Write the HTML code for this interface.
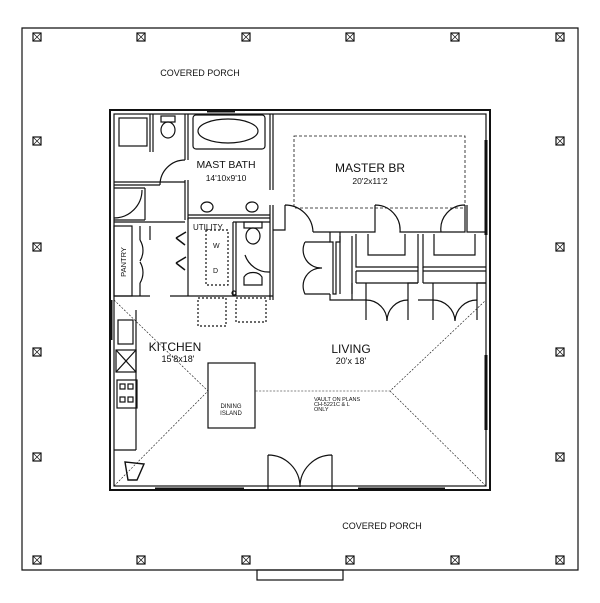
<!DOCTYPE html>
<html><head><style>html,body{margin:0;padding:0;background:#fff}svg{display:block}text{font-family:"Liberation Sans",sans-serif;fill:#111}</style></head>
<body>
<svg width="600" height="603" viewBox="0 0 600 603" xmlns="http://www.w3.org/2000/svg" fill="none" stroke="#111" stroke-width="1.2">
<defs>
<g id="post"><rect x="-4" y="-4" width="8" height="8" fill="#fff"/><path d="M-4 -4L4 4M4 -4L-4 4" stroke-width="0.7"/></g>
</defs>
<path d="M22 28H578V570H22Z"/>
<rect x="257" y="570" width="86" height="10"/>
<g>
<use href="#post" x="37" y="37"/><use href="#post" x="141" y="37"/><use href="#post" x="246" y="37"/><use href="#post" x="350" y="37"/><use href="#post" x="455" y="37"/><use href="#post" x="560" y="37"/>
<use href="#post" x="37" y="560"/><use href="#post" x="141" y="560"/><use href="#post" x="246" y="560"/><use href="#post" x="350" y="560"/><use href="#post" x="455" y="560"/><use href="#post" x="560" y="560"/>
<use href="#post" x="37" y="141"/><use href="#post" x="37" y="247"/><use href="#post" x="37" y="352"/><use href="#post" x="37" y="457"/>
<use href="#post" x="560" y="141"/><use href="#post" x="560" y="247"/><use href="#post" x="560" y="352"/><use href="#post" x="560" y="457"/>
</g>
<text x="200" y="76" font-size="9" text-anchor="middle" stroke="none">COVERED  PORCH</text>
<text x="382" y="529" font-size="9" text-anchor="middle" stroke="none">COVERED  PORCH</text>
<rect x="110" y="110" width="380" height="380" stroke-width="2"/>
<rect x="114" y="114" width="372" height="372"/>
<path d="M155 489H244M358 489H445M207 111H235M486 140V235M486 355V430M111 300V340" stroke-width="3"/>
<path d="M185 114V160M185 180V220M188 114V160M188 180V220" />
<path d="M114 182H185M114 185H160" />
<path d="M150 114V152M153 114V152"/>
<path d="M270 114V190M273 114V190M270 205V300M273 205V300"/>
<path d="M188 218H270M188 215H270"/>
<rect x="119" y="118" width="28" height="28"/>
<ellipse cx="168" cy="130" rx="7" ry="8"/><rect x="161" y="116" width="14" height="6"/>
<rect x="193" y="115" width="72" height="34" rx="3"/><ellipse cx="228" cy="131" rx="30" ry="12"/>
<path d="M160 185 A25 25 0 0 1 185 160"/>
<text x="226" y="168" font-size="10.5" text-anchor="middle" stroke="none">MAST  BATH</text>
<text x="226" y="181" font-size="8.5" text-anchor="middle" stroke="none">14'10x9'10</text>
<ellipse cx="207" cy="207" rx="6" ry="5"/><ellipse cx="252" cy="207" rx="6" ry="5"/>
<path d="M114 188H145M114 220H145M145 188V220M114 222H185"/>
<path d="M114 218 A28 28 0 0 0 142 190"/>
<rect x="114" y="226" width="18" height="70"/>
<text x="126" y="262" font-size="7.5" text-anchor="middle" stroke="none" transform="rotate(-90 126 262)">PANTRY</text>
<path d="M140 226V240M140 283V296M114 296H150M150 226V240"/>
<path d="M140 240 A20 20 0 0 1 140 261M140 283 A20 20 0 0 0 140 262"/>
<path d="M188 218V296H240M188 296H170M233 222V296M236 222V296M233 222H270"/>
<path d="M185 245L176 238M176 238L186 232M185 270L176 263M176 263L186 257" stroke-width="1.5"/>
<text x="193" y="230" font-size="8" stroke="none">UTILITY</text>
<rect x="206" y="230" width="22" height="55" stroke-dasharray="2 2"/>
<text x="213" y="248" font-size="7" stroke="none">W</text><text x="213" y="273" font-size="7" stroke="none">D</text>
<rect x="198" y="298" width="28" height="28" stroke-dasharray="2 2"/>
<rect x="236" y="298" width="30" height="24" stroke-dasharray="2 2"/>
<circle cx="234" cy="293" r="2"/>
<ellipse cx="253" cy="236" rx="7" ry="8"/><rect x="244" y="222" width="18" height="6"/>
<path d="M244 277a10 8 0 0 1 18 0v8h-18z"/>
<path d="M240 296H273"/>
<path d="M245 255 A25 25 0 0 0 270 272"/>
<rect x="294" y="136" width="171" height="72" stroke-dasharray="3 2" stroke-width="0.8"/>
<text x="370" y="172" font-size="12" text-anchor="middle" stroke="none">MASTER  BR</text>
<text x="370" y="184" font-size="8.5" text-anchor="middle" stroke="none">20'2x11'2</text>
<path d="M273 230H285V205M285 205 A28 28 0 0 1 313 232"/>
<path d="M313 232H375V205M375 205 A25 25 0 0 1 400 232H465V205M465 205 A24 24 0 0 0 441 232"/>
<path d="M467 205V232H486"/>
<path d="M330 232V242H333V294H336V242H340V232"/>
<path d="M340 236V294M352 236V294"/>
<path d="M356 234V267H418V234M423 234V267H486M368 234V255H405V234M434 234V255H475V234"/>
<path d="M356 271H418V283M356 271V283M423 271H486M423 271V283M356 283H418M423 283H486M423 267V271M418 267V271"/>
<path d="M330 242H305M305 242 A18 18 0 0 0 322 268 A18 18 0 0 0 305 294H330M330 294V300H352M352 283V300"/>
<path d="M352 300H366V283M408 300V283H418M418 300H433V283M477 300V283H486"/>
<path d="M366 300V320M366 300 A21 21 0 0 1 387 321M408 300V320M408 300 A21 21 0 0 0 387 321"/>
<path d="M433 300V320M433 300 A22 22 0 0 1 455 321M477 300V320M477 300 A22 22 0 0 0 455 321"/>
<g stroke-width="0.6" stroke-dasharray="2 1.5">
<path d="M114 300L208 391H390L486 300M114 486L208 391M390 391L486 486"/>
</g>
<rect x="208" y="363" width="47" height="65" fill="#fff"/>
<text x="231" y="408" font-size="6" text-anchor="middle" stroke="none">DINING</text>
<text x="231" y="415" font-size="6" text-anchor="middle" stroke="none">ISLAND</text>
<text x="175" y="351" font-size="12" text-anchor="middle" stroke="none">KITCHEN</text>
<text x="178" y="362" font-size="9" text-anchor="middle" stroke="none">15'8x18'</text>
<text x="351" y="353" font-size="12" text-anchor="middle" stroke="none">LIVING</text>
<text x="351" y="364" font-size="9" text-anchor="middle" stroke="none">20'x  18'</text>
<text x="314" y="401" font-size="5.5" stroke="none">VAULT ON PLANS</text>
<text x="314" y="406" font-size="5.5" stroke="none">CH-5221C &amp; L</text>
<text x="314" y="411" font-size="5.5" stroke="none">ONLY</text>
<path d="M136 310V450M114 450H136"/>
<rect x="118" y="320" width="15" height="24"/>
<rect x="116" y="350" width="20" height="22"/><path d="M116 350L136 372M136 350L116 372"/>
<rect x="117" y="380" width="20" height="28"/>
<rect x="120" y="384" width="5" height="5"/><rect x="128" y="384" width="5" height="5"/><rect x="120" y="397" width="5" height="5"/><rect x="128" y="397" width="5" height="5"/>
<path d="M125 462L144 464L137 480L128 480Z" stroke-width="1.4"/>
<path d="M268 489V455M268 455 A32 32 0 0 1 300 487M332 489V455M332 455 A32 32 0 0 0 300 487"/>
</svg>
</body></html>
